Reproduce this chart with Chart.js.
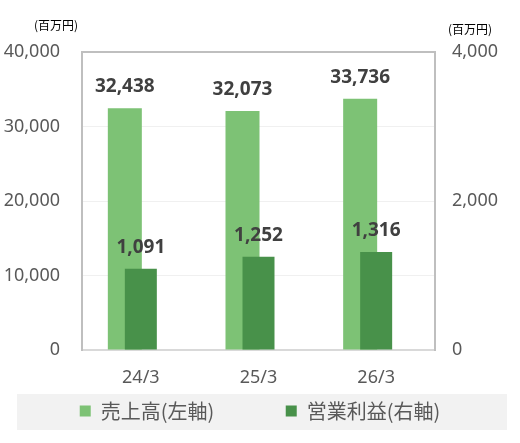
<!DOCTYPE html>
<html>
<head>
<meta charset="utf-8">
<script src="https://cdn.jsdelivr.net/npm/chart.js@4"></script>
<style>
  html, body { margin: 0; padding: 0; background: #fff; }
  #wrap { width: 520px; height: 443px; }
</style>
</head>
<body>
<div id="wrap"><canvas id="myChart"></canvas></div>
<script>
// data
const labels = ['24/3', '25/3', '26/3'];
const sales = [32438, 32073, 33736];       // 売上高 (left axis)
const opProfit = [1091, 1252, 1316];       // 営業利益 (right axis)
const leftTicks = [0, 10000, 20000, 30000, 40000];
const rightTicks = [0, 2000, 4000];

const FONT = "'Noto Sans', 'Noto Sans CJK JP', sans-serif";
const JP = "'Noto Sans CJK JP', 'Noto Sans', sans-serif";

// value above each bar, unit labels, legend background
const extras = {
    id: 'extras',
    beforeDraw(chart) {
        const lg = chart.legend;
        const c = chart.ctx;
        c.save();
        c.fillStyle = '#f2f2f2';
        c.fillRect(17, lg.top, 490, lg.bottom - lg.top - 1);
        c.restore();
    },
    afterDatasetsDraw(chart) {
        const c = chart.ctx;
        c.save();
        c.fillStyle = '#404040';
        c.font = 'bold 19px ' + FONT;
        c.textAlign = 'center';
        c.textBaseline = 'alphabetic';
        chart.data.datasets.forEach((ds, i) => {
            if (ds.dummy) return;
            chart.getDatasetMeta(i).data.forEach((bar, j) => {
                c.fillText(ds.data[j].toLocaleString('en-US'), bar.x, bar.y - 16);
            });
        });
        c.fillStyle = '#000';
        c.font = '12px ' + JP;
        c.fillText('(百万円)', 56, 30);
        c.fillText('(百万円)', 470, 34);
        c.restore();
    }
};

const ctx = document.getElementById('myChart');

new Chart(ctx, {
    type: 'bar',
    data: {
        labels: labels,
        datasets: [{
                // drawn last, so it sits on top of the sales bar
                label: '営業利益(右軸)',
                data: opProfit,
                backgroundColor: '#48914a',
                yAxisID: 'y2',
                grouped: false,
                maxBarThickness: 32
            }, {
                label: '売上高(左軸)',
                data: sales,
                backgroundColor: '#7dc275',
                yAxisID: 'y',
                categoryPercentage: 0.544,
                barPercentage: 1.0625
            }, {
                label: 'dummy',
                dummy: true,
                data: [null, null, null],
                yAxisID: 'y',
                categoryPercentage: 0.544,
                barPercentage: 1.0625
            }]
    },
    options: {
        responsive: true,
        maintainAspectRatio: false,
        animation: false,
        layout: {
            padding: { top: 52, bottom: 12, left: 0, right: 0 }
        },
        plugins: {
            tooltip: { enabled: false },
            legend: {
                position: 'bottom',
                reverse: true,
                labels: {
                    generateLabels: chart => {
                        const items = Chart.defaults.plugins.legend.labels.generateLabels(chart);
                        // wider gap between the two legend entries
                        items.forEach(it => { if (it.datasetIndex === 1) it.text += '\u3000\u3000\u3000 '; });
                        return items;
                    },
                    filter: item => item.text !== 'dummy',
                    boxWidth: 11,
                    boxHeight: 11,
                    color: '#595959',
                    font: { family: JP, size: 20 },
                    padding: 7
                }
            }
        },
        scales: {
            x: {
                position: 'bottom',
                afterFit: s => { s.height = 44; },
                grid: { drawOnChartArea: false, drawTicks: false },
                border: { color: '#d9d9d9', width: 2 },
                ticks: { color: '#595959', font: { family: FONT, size: 18 }, padding: 17 }
            },
            x2: {
                position: 'top',
                grid: { drawOnChartArea: false, drawTicks: false },
                border: { color: '#bfbfbf', width: 2 },
                ticks: { display: false }
            },
            y: {
                position: 'left',
                min: 0,
                max: 40000,
                afterBuildTicks: s => { s.ticks = leftTicks.map(v => ({ value: v })); },
                afterFit: s => { s.width = 82; },
                grid: {
                    drawTicks: false,
                    color: c => (c.tick.value === 0 || c.tick.value === 40000) ? 'rgba(0,0,0,0)' : '#f0f0f0'
                },
                border: { color: '#bfbfbf', width: 2 },
                ticks: {
                    color: '#595959',
                    font: { family: FONT, size: 18 },
                    padding: 22,
                    callback: v => v.toLocaleString('en-US')
                }
            },
            y2: {
                position: 'right',
                min: 0,
                max: 4000,
                afterBuildTicks: s => { s.ticks = rightTicks.map(v => ({ value: v })); },
                afterFit: s => { s.width = 85; },
                grid: { drawOnChartArea: false, drawTicks: false },
                border: { color: '#bfbfbf', width: 2 },
                ticks: {
                    color: '#595959',
                    font: { family: FONT, size: 18 },
                    padding: 17,
                    callback: v => v.toLocaleString('en-US')
                }
            }
        }
    },
    plugins: [extras]
});
</script>
</body>
</html>
